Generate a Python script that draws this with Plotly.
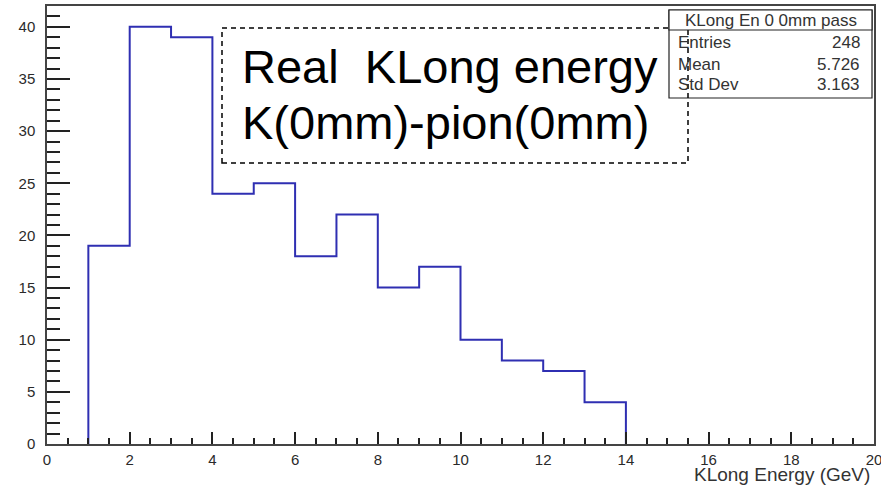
import plotly.graph_objects as go

# Data
bin_edges = [1, 2, 3, 4, 5, 6, 7, 8, 9, 10, 11, 12, 13, 14]
counts = [19, 40, 39, 24, 25, 18, 22, 15, 17, 10, 8, 7, 4]
stats_title = "KLong En 0 0mm pass"
stats_labels = ["Entries", "Mean", "Std Dev"]
stats_values = ["248", "5.726", "3.163"]
x_title = "KLong Energy (GeV)"
text_lines = ["Real\u00a0 KLong energy", "K(0mm)-pion(0mm)"]

W, H = 881, 486
L, R, T, B = 47, 874, 6, 444


def px(x):
    return (x - L) / (R - L)


def py(y):
    return (B - y) / (B - T)


xs = [bin_edges[0]] + bin_edges[:-1] + [bin_edges[-1]]
ys = [0] + counts + [0]

fig = go.Figure()
fig.add_trace(go.Scatter(
    x=xs, y=ys, mode="lines", line=dict(shape="hv", color="#2f2fb2", width=2),
    hoverinfo="skip", showlegend=False))

font = "Liberation Sans, Arial, Helvetica, sans-serif"
tick_font = dict(family=font, size=15, color="#2a2a2a")

fig.update_layout(
    width=W, height=H,
    margin=dict(l=L, r=W - R, t=T, b=H - B, autoexpand=False),
    paper_bgcolor="white", plot_bgcolor="white",
    showlegend=False,
    xaxis=dict(range=[0, 20], dtick=2, tick0=0, ticks="inside", ticklen=12, tickwidth=1.5,
               tickcolor="#222", showgrid=False, zeroline=False, showline=True,
               linecolor="#444", linewidth=1.5, mirror=True, tickfont=tick_font,
               automargin=False, ticklabeloverflow="allow", ticklabelstandoff=1,
               minor=dict(dtick=0.5, ticks="inside", ticklen=6, tickwidth=1.5, tickcolor="#222")),
    yaxis=dict(range=[0, 42], dtick=5, tick0=0, ticks="inside", ticklen=23, tickwidth=1.5,
               tickcolor="#222", showgrid=False, zeroline=False, showline=True,
               linecolor="#444", linewidth=1.5, mirror=True, tickfont=tick_font,
               automargin=False, ticklabelstandoff=7,
               minor=dict(dtick=1, ticks="inside", ticklen=13, tickwidth=1.5, tickcolor="#222")),
)

# stats body
fig.add_shape(type="rect", xref="paper", yref="paper",
              x0=px(669), x1=px(872), y0=py(98), y1=py(10),
              line=dict(color="#222", width=1.2), fillcolor="white", layer="above")
# dashed text box
fig.add_shape(type="rect", xref="paper", yref="paper",
              x0=px(222), x1=px(688), y0=py(163), y1=py(28),
              line=dict(color="black", width=1.5, dash="5px,4px"), fillcolor="rgba(0,0,0,0)",
              layer="above")
# stats title row
fig.add_shape(type="rect", xref="paper", yref="paper",
              x0=px(669), x1=px(872), y0=py(30), y1=py(10),
              line=dict(color="#222", width=1.2), fillcolor="white", layer="above")

fig.add_annotation(xref="paper", yref="paper", x=px(770.5), y=py(20), text=stats_title,
                   showarrow=False, xanchor="center", yanchor="middle",
                   font=dict(family=font, size=17, color="#333"))
row_y = [43, 64, 84]
for lab, val, yy in zip(stats_labels, stats_values, row_y):
    fig.add_annotation(xref="paper", yref="paper", x=px(676), y=py(yy), text=lab,
                       showarrow=False, xanchor="left", yanchor="middle",
                       font=dict(family=font, size=17, color="#333"))
    fig.add_annotation(xref="paper", yref="paper", x=px(862), y=py(yy), text=val,
                       showarrow=False, xanchor="right", yanchor="middle",
                       font=dict(family=font, size=17, color="#333"))

for line, yy in zip(text_lines, [67, 122]):
    fig.add_annotation(xref="paper", yref="paper", x=px(240), y=py(yy), text=line,
                       showarrow=False, xanchor="left", yanchor="middle",
                       font=dict(family=font, size=47, color="black"))

fig.add_annotation(xref="paper", yref="paper", x=px(872), y=py(475), text=x_title,
                   showarrow=False, xanchor="right", yanchor="middle",
                   font=dict(family=font, size=19, color="#333"))

fig.write_html("out.html", config={"displayModeBar": False},
               post_script="document.body.style.margin='0';document.body.style.overflow='hidden';")
